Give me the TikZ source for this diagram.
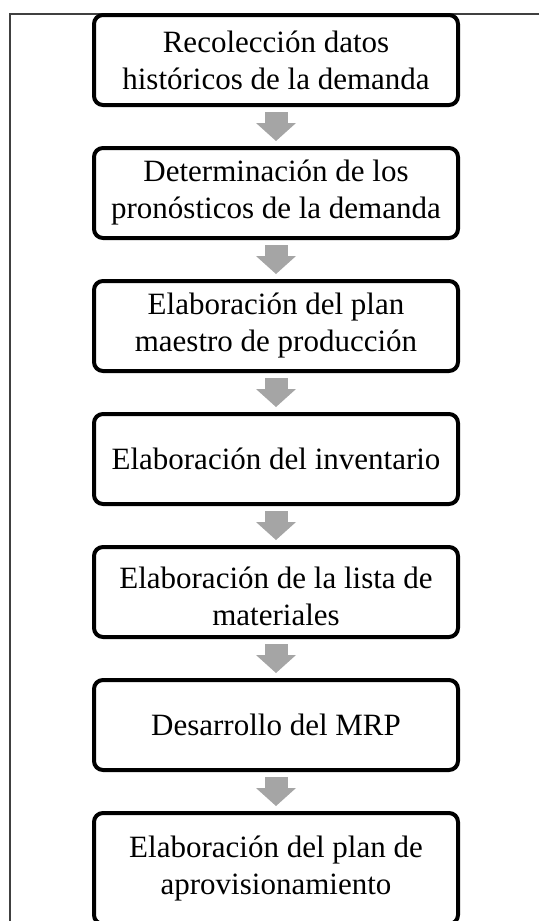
\documentclass[tikz,border=0pt]{standalone}
\usepackage{fontspec}
\setmainfont{Liberation Serif}
\usetikzlibrary{arrows.meta}
\definecolor{flowgray}{RGB}{165,165,165}
\tikzset{stepbox/.style={draw, line width=4pt, rounded corners=9pt, minimum width=364pt, minimum height=90pt, align=center, font=\fontsize{31}{37}\selectfont},
  flow/.style={draw=flowgray, line width=23pt, shorten <=5pt, shorten >=5pt, -{Triangle[width=40pt,length=18pt,line width=0pt]}}}

\begin{document}
\begin{tikzpicture}[x=1pt,y=-1pt]
\useasboundingbox (0,0) rectangle (539,921);
\clip (0,0) rectangle (539,921);
\draw[line width=1.5pt, black!75] (539,13.75) -| (10,921);

\node[stepbox] (recol) at (276,60) {Recolección datos\\históricos de la demanda};
\node[stepbox] (pron) at (276,193) {Determinación de los\\pronósticos de la demanda};
\node[stepbox] (mps) at (276,326) {Elaboración del plan\\maestro de producción};
\node[stepbox] (inv) at (276,459) {Elaboración del inventario};
\node[stepbox, text height=68pt] (bom) at (276,592) {Elaboración de la lista de\\materiales};
\node[stepbox] (mrp) at (276,725) {Desarrollo del MRP};
\node[stepbox, minimum height=111pt] (aprov) at (276,868.5) {Elaboración del plan de\\aprovisionamiento};

\draw[flow] (recol) to (pron);
\draw[flow] (pron) to (mps);
\draw[flow] (mps) to (inv);
\draw[flow] (inv) to (bom);
\draw[flow] (bom) to (mrp);
\draw[flow] (mrp) to (aprov);
\end{tikzpicture}
\end{document}
